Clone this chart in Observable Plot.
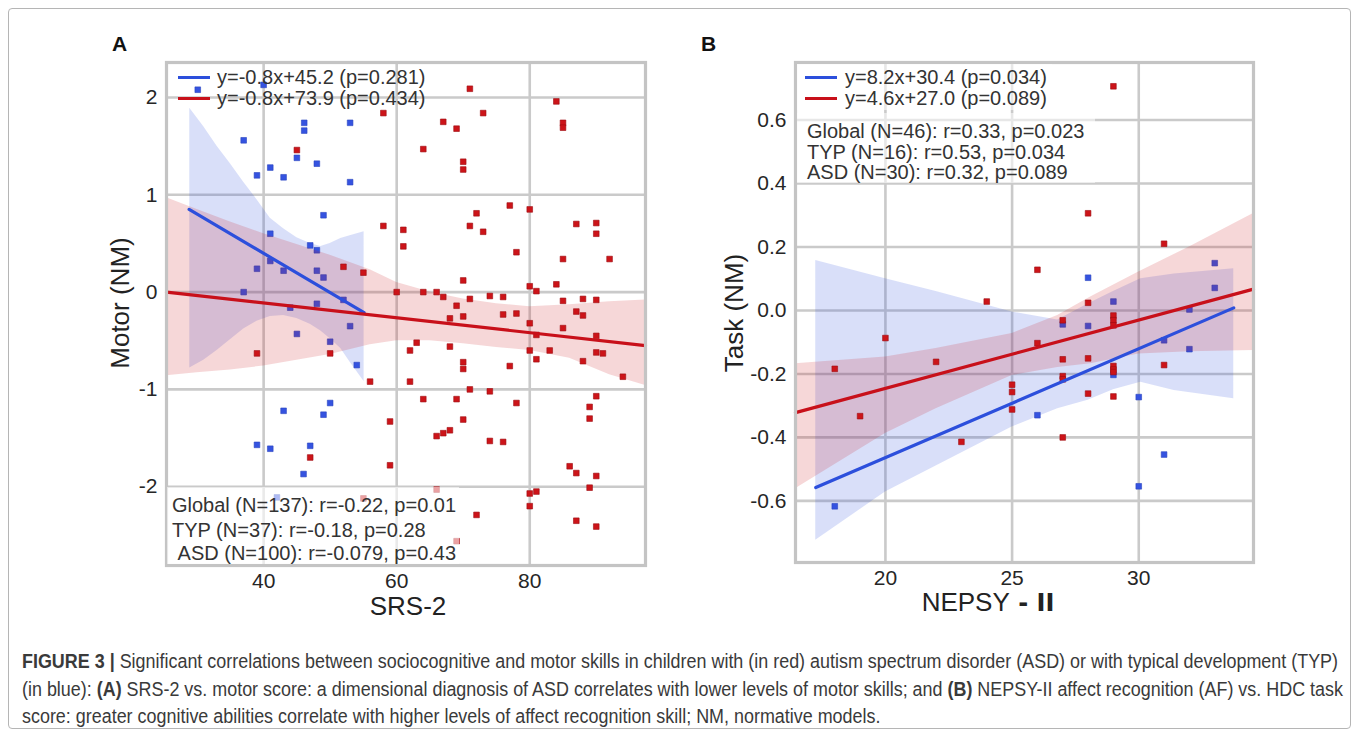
<!DOCTYPE html>
<html>
<head>
<meta charset="utf-8">
<script src="https://cdn.jsdelivr.net/npm/d3@7"></script>
<script src="https://cdn.jsdelivr.net/npm/@observablehq/plot@0.6"></script>
<style>
  html, body { margin: 0; padding: 0; background: #fff; }
  #page { position: relative; width: 1358px; height: 736px; overflow: hidden; font-family: "Liberation Sans", Arial, sans-serif; color: #333; }
  #border { position: absolute; left: 8px; top: 8px; width: 1341px; height: 719px; border: 1px solid #b5b5b5; border-radius: 4px; }
  .abs { position: absolute; white-space: nowrap; }
  .plot { position: absolute; top: 0; }
  .lbl { font-size: 20px; color: #333; line-height: 1; transform: translateY(-50%); }
  .axl { font-size: 26px; color: #222; line-height: 1; }
  .panel { font-size: 21px; font-weight: bold; color: #111; line-height: 1; }
  .leg { position: absolute; height: 3px; }
  .box { position: absolute; background: rgba(255,255,255,0.6); }
  #caption { position: absolute; left: 22px; top: 648px; font-family: "Liberation Sans Narrow", "Liberation Sans", Arial, sans-serif; color: #3a3a3a; line-height: 27.5px; white-space: nowrap; font-size: 19.5px; transform-origin: 0 0; }
</style>
</head>
<body>
<div id="page">
  <div id="border"></div>
  <div id="plotA" class="plot" style="left:0px"></div>
  <div id="plotB" class="plot" style="left:680px"></div>
</div>
<script>
// ---------------- DATA ----------------
// Panel A: SRS-2 (x) vs Motor (NM) (y)
const srsTicks = [40, 60, 80];
const motorTicks = [-2, -1, 0, 1, 2];
const typA_x = [30.1,40,37,46.1,46.1,53,45,41,39,43,48,53,49,41,47,48,41,39,43,48,49,37,52,44,48,45,50,53,54,50,49,43,39,41,47,46,42];
const typA_y = [2.08,2.13,1.56,1.74,1.66,1.74,1.38,1.28,1.20,1.18,1.32,1.13,0.79,0.60,0.48,0.43,0.32,0.24,0.22,0.22,0.15,0.00,-0.08,-0.16,-0.12,-0.43,-0.51,-0.35,-0.75,-1.14,-1.26,-1.22,-1.57,-1.61,-1.58,-1.87,-2.11];
const asdA_x = [45,52,55,39,50,56,47,55,
  71,58,73,67,69,64,70,70,84,85,85,
  77,80,72,58,61,61,71,73,87,90,90,78,85,92,70,
  60,64,66,67,71,74,76,80,81,84,85,88,90,69,68,70,76,78,87,88,
  80,81,85,90,62,63,68,80,83,81,88,90,91,62,70,70,77,94,
  71,74,64,69,78,90,89,89,59,70,66,67,68,74,76,59,86,87,90,89,66,80,81,80,72,87,90,69];
const asdA_y = [1.46,0.26,0.20,-0.63,-0.63,-0.92,-1.70,-2.12,
  2.09,1.84,1.84,1.75,1.68,1.47,1.34,1.26,1.96,1.74,1.69,
  0.89,0.85,0.81,0.68,0.64,0.47,0.68,0.62,0.70,0.71,0.60,0.41,0.34,0.34,0.12,
  0.00,0.00,0.00,-0.05,-0.07,-0.04,-0.05,0.06,0.01,0.08,-0.09,-0.07,-0.08,-0.14,-0.27,-0.25,-0.23,-0.22,-0.20,-0.24,
  -0.32,-0.44,-0.37,-0.45,-0.60,-0.52,-0.56,-0.60,-0.60,-0.69,-0.71,-0.62,-0.63,-0.92,-0.72,-0.79,-0.76,-0.87,
  -1.00,-1.02,-1.10,-1.10,-1.14,-1.07,-1.18,-1.30,-1.33,-1.31,-1.48,-1.45,-1.42,-1.53,-1.54,-1.78,-1.79,-1.86,-1.89,-2.01,-2.03,-2.07,-2.05,-2.20,-2.29,-2.35,-2.41,-2.56];
// fitted lines
const fitA_typ_x = [28.8, 55.1];
const fitA_typ_y = [0.85, -0.21];
const fitA_asd_x = [25.4, 97.4];
const fitA_asd_y = [0.0, -0.55];
// confidence bands
const bandA_typ_x  = [28.9, 31, 33, 35, 37, 39, 41, 43, 45, 47, 48.6, 50, 51.6, 53, 55.1];
const bandA_typ_hi = [1.89, 1.70, 1.50, 1.32, 1.13, 0.95, 0.76, 0.65, 0.56, 0.50, 0.47, 0.50, 0.55, 0.58, 0.62];
const bandA_typ_lo = [-0.78, -0.70, -0.60, -0.49, -0.38, -0.30, -0.25, -0.24, -0.27, -0.33, -0.40, -0.48, -0.58, -0.72, -0.92];
const bandA_asd_x  = [25.4, 30, 35, 40, 45, 50, 56, 60, 65, 70, 75, 80, 86, 92, 97.4];
const bandA_asd_hi = [0.97, 0.85, 0.72, 0.60, 0.49, 0.38, 0.23, 0.10, 0.00, -0.07, -0.12, -0.15, -0.13, -0.10, -0.08];
const bandA_asd_lo = [-0.86, -0.83, -0.80, -0.76, -0.70, -0.64, -0.54, -0.50, -0.50, -0.53, -0.57, -0.60, -0.68, -0.85, -0.96];

// Panel B: NEPSY-II (x) vs Task (NM) (y)
const nepsyTicks = [20, 25, 30];
const taskTicks = [-0.6, -0.4, -0.2, 0.0, 0.2, 0.4, 0.6];
const typB_x = [18,26,27,28,28,29,29,30,30,31,31,32,32,33,33];
const typB_y = [-0.617,-0.330,-0.044,0.103,-0.049,0.028,-0.203,-0.273,-0.554,-0.094,-0.454,0.003,-0.122,0.149,0.071];
const asdB_x = [18,19,20,22,23,24,25,25,25,26,26,27,27,27,27,27,28,28,28,28,29,29,29,29,29,29,29,29,31,31];
const asdB_y = [-0.184,-0.333,-0.087,-0.162,-0.414,0.028,-0.234,-0.257,-0.312,0.128,-0.103,-0.031,-0.154,-0.207,-0.217,-0.400,0.306,0.024,-0.151,-0.262,0.706,-0.016,-0.031,-0.047,-0.175,-0.186,-0.194,-0.271,0.210,-0.172];
const fitB_typ_x = [17.25, 33.75];
const fitB_typ_y = [-0.558, 0.008];
const fitB_asd_x = [16.45, 34.53];
const fitB_asd_y = [-0.322, 0.067];
const bandB_typ_x  = [17.25, 20, 22, 25, 26.8, 28, 29, 30.08, 31.4, 33.75];
const bandB_typ_hi = [0.157, 0.10, 0.06, -0.005, -0.03, 0.02, 0.06, 0.10, 0.115, 0.131];
const bandB_typ_lo = [-0.724, -0.572, -0.49, -0.367, -0.31, -0.283, -0.25, -0.226, -0.252, -0.278];
const bandB_asd_x  = [16.45, 20, 22, 25, 26.8, 28.1, 30, 32, 34.53];
const bandB_asd_hi = [-0.168, -0.147, -0.12, -0.073, -0.016, 0.042, 0.121, 0.20, 0.305];
const bandB_asd_lo = [-0.562, -0.388, -0.31, -0.205, -0.18, -0.168, -0.137, -0.13, -0.126];

// text
const legendA = ["y=-0.8x+45.2 (p=0.281)", "y=-0.8x+73.9 (p=0.434)"];
const statsA = ["Global (N=137): r=-0.22, p=0.01", "TYP (N=37): r=-0.18, p=0.28", " ASD (N=100): r=-0.079, p=0.43"];
const legendB = ["y=8.2x+30.4 (p=0.034)", "y=4.6x+27.0 (p=0.089)"];
const statsB = ["Global (N=46): r=0.33, p=0.023", "TYP (N=16): r=0.53, p=0.034", "ASD (N=30): r=0.32, p=0.089"];

// ---------------- STYLE ----------------
const BLUE = "#2c4fdc", RED = "#c8101a";
const BLUE_PT = "#3553e0", RED_PT = "#cc1419";
const GRID = "#cacaca";

const zip2 = (xs, ys) => xs.map((x, i) => ({x, y: ys[i]}));
const band = (xs, lo, hi) => xs.map((x, i) => ({x, lo: lo[i], hi: hi[i]}));

function panel({width, ml, mr, mb, xDomain, yDomain, xTicks, yTicks, yFmt, typ, asd, fitTyp, fitAsd, bandTyp, bandAsd}) {
  return Plot.plot({
    width, height: 630,
    marginLeft: ml, marginRight: mr, marginTop: 62, marginBottom: mb,
    style: {fontSize: "21px", fontFamily: "'Liberation Sans', Arial, sans-serif", color: "#262626", background: "transparent", overflow: "visible"},
    x: {domain: xDomain, ticks: xTicks, tickSize: 0, tickPadding: 8, label: null, tickFormat: d => String(d)},
    y: {domain: yDomain, ticks: yTicks, tickSize: 0, tickPadding: 9, label: null, tickFormat: yFmt},
    marks: [
      Plot.gridX(xTicks, {stroke: GRID, strokeWidth: 2.6, strokeOpacity: 1}),
      Plot.gridY(yTicks, {stroke: GRID, strokeWidth: 2.6, strokeOpacity: 1}),
      Plot.areaY(bandTyp, {x: "x", y1: "lo", y2: "hi", fill: BLUE, fillOpacity: 0.18}),
      Plot.dot(typ, {x: "x", y: "y", symbol: "square", r: 3.2, fill: BLUE_PT, stroke: "#2a44c0", strokeWidth: 0.6}),
      Plot.areaY(bandAsd, {x: "x", y1: "lo", y2: "hi", fill: RED, fillOpacity: 0.17}),
      Plot.dot(asd, {x: "x", y: "y", symbol: "square", r: 3.2, fill: RED_PT, stroke: "#9e0c10", strokeWidth: 0.6}),
      Plot.line(fitTyp, {x: "x", y: "y", stroke: BLUE, strokeWidth: 3.2}),
      Plot.line(fitAsd, {x: "x", y: "y", stroke: RED, strokeWidth: 3.2}),
      Plot.frame({stroke: "#c4c4c4", strokeWidth: 3.2})
    ]
  });
}

const A = panel({
  width: 680, ml: 166, mr: 35, mb: 65,
  xDomain: [25.4, 97.4], yDomain: [-2.81, 2.36], xTicks: srsTicks, yTicks: motorTicks,
  yFmt: d => String(d),
  typ: zip2(typA_x, typA_y), asd: zip2(asdA_x, asdA_y),
  fitTyp: zip2(fitA_typ_x, fitA_typ_y), fitAsd: zip2(fitA_asd_x, fitA_asd_y),
  bandTyp: band(bandA_typ_x, bandA_typ_lo, bandA_typ_hi), bandAsd: band(bandA_asd_x, bandA_asd_lo, bandA_asd_hi)
});
document.getElementById("plotA").append(A);

const B = panel({
  width: 678, ml: 115, mr: 105, mb: 68,
  xDomain: [16.45, 34.53], yDomain: [-0.794, 0.781], xTicks: nepsyTicks, yTicks: taskTicks,
  yFmt: d => d.toFixed(1),
  typ: zip2(typB_x, typB_y), asd: zip2(asdB_x, asdB_y),
  fitTyp: zip2(fitB_typ_x, fitB_typ_y), fitAsd: zip2(fitB_asd_x, fitB_asd_y),
  bandTyp: band(bandB_typ_x, bandB_typ_lo, bandB_typ_hi), bandAsd: band(bandB_asd_x, bandB_asd_lo, bandB_asd_hi)
});
document.getElementById("plotB").append(B);

// ---------------- ANNOTATIONS (HTML) ----------------
const page = document.getElementById("page");
function add(html, cls, style) {
  const d = document.createElement("div");
  d.className = cls;
  d.innerHTML = html;
  Object.assign(d.style, style);
  page.appendChild(d);
  return d;
}
// translucent text boxes
add("", "box", {left: "167px", top: "487px", width: "292px", height: "77px"});
add("", "box", {left: "797px", top: "113px", width: "298px", height: "70px", background: "rgba(255,255,255,0.55)"});
add("", "box", {left: "797px", top: "64px", width: "255px", height: "46px", background: "rgba(255,255,255,0.55)"});

// legends
[[BLUE, 77], [RED, 98]].forEach(([c, y], i) => {
  add("", "leg", {left: "178px", top: (y - 1.5) + "px", width: "32px", background: c});
  add(legendA[i], "abs lbl", {left: "217px", top: y + "px"});
  add("", "leg", {left: "805px", top: (y - 1.5) + "px", width: "32px", background: c});
  add(legendB[i], "abs lbl", {left: "845px", top: y + "px"});
});
statsA.forEach((t, i) => add(t.replace(/^ /, "&nbsp;"), "abs lbl", {left: "172px", top: [505, 530, 553][i] + "px"}));
statsB.forEach((t, i) => add(t, "abs lbl", {left: "807px", top: [131, 152, 172][i] + "px"}));

// panel letters
add("A", "abs panel", {left: "112px", top: "33px"});
add("B", "abs panel", {left: "701px", top: "33px"});

// axis titles
add("Motor (NM)", "abs axl", {left: "120px", top: "303px", transform: "translate(-50%,-50%) rotate(-90deg)"});
add("SRS-2", "abs axl", {left: "408px", top: "606px", transform: "translate(-50%,-50%)"});
add("Task (NM)", "abs axl", {left: "734px", top: "313px", transform: "translate(-50%,-50%) rotate(-90deg)"});
add("NEPSY<span style='font-weight:bold;font-family:\"DejaVu Sans\",sans-serif;font-size:24px'> - II</span>", "abs axl", {left: "988px", top: "602px", transform: "translate(-50%,-50%)"});

// caption
const cap = add(
  "<span id='l1'><b>FIGURE 3 |</b> Significant correlations between sociocognitive and motor skills in children with (in red) autism spectrum disorder (ASD) or with typical development (TYP)</span><br>" +
  "(in blue): <b>(A)</b> SRS-2 vs. motor score: a dimensional diagnosis of ASD correlates with lower levels of motor skills; and <b>(B)</b> NEPSY-II affect recognition (AF) vs. HDC task<br>" +
  "score: greater cognitive abilities correlate with higher levels of affect recognition skill; NM, normative models.",
  "", {});
cap.id = "caption";
const l1 = document.getElementById("l1");
const w = l1.getBoundingClientRect().width;
cap.style.transform = "scaleX(" + (1316 / w).toFixed(4) + ")";
</script>
</body>
</html>
